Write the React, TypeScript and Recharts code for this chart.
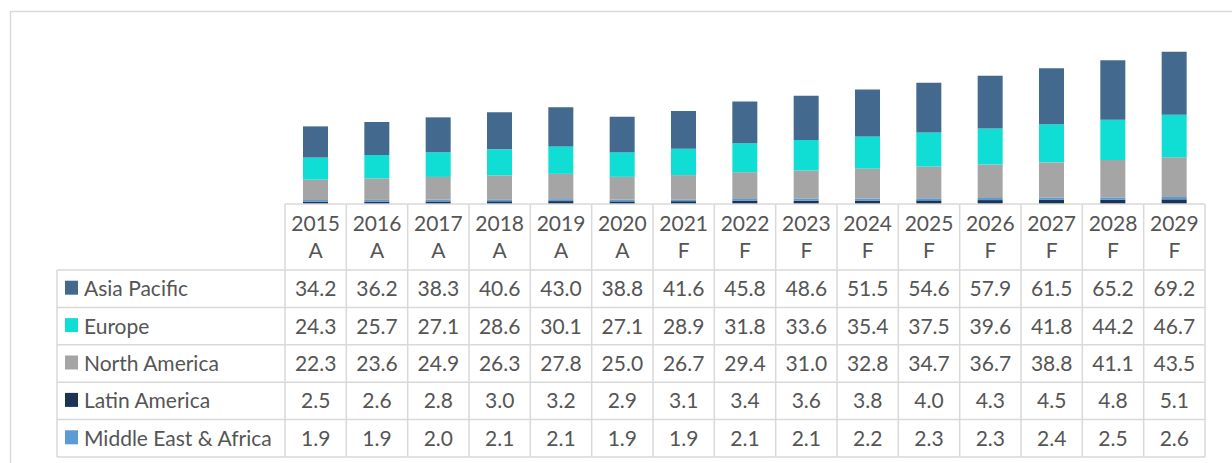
import * as React from "react";
import { Bar, BarChart, XAxis, YAxis } from "recharts";

const years = ["2015", "2016", "2017", "2018", "2019", "2020", "2021", "2022", "2023", "2024", "2025", "2026", "2027", "2028", "2029"];
const phase = ["A", "A", "A", "A", "A", "A", "F", "F", "F", "F", "F", "F", "F", "F", "F"];

const asiaPacific = [34.2, 36.2, 38.3, 40.6, 43.0, 38.8, 41.6, 45.8, 48.6, 51.5, 54.6, 57.9, 61.5, 65.2, 69.2];
const europe = [24.3, 25.7, 27.1, 28.6, 30.1, 27.1, 28.9, 31.8, 33.6, 35.4, 37.5, 39.6, 41.8, 44.2, 46.7];
const northAmerica = [22.3, 23.6, 24.9, 26.3, 27.8, 25.0, 26.7, 29.4, 31.0, 32.8, 34.7, 36.7, 38.8, 41.1, 43.5];
const latinAmerica = [2.5, 2.6, 2.8, 3.0, 3.2, 2.9, 3.1, 3.4, 3.6, 3.8, 4.0, 4.3, 4.5, 4.8, 5.1];
const middleEastAfrica = [1.9, 1.9, 2.0, 2.1, 2.1, 1.9, 1.9, 2.1, 2.1, 2.2, 2.3, 2.3, 2.4, 2.5, 2.6];

// table row order (top to bottom), as shown in the data table
const seriesRows = [
  { key: "asiaPacific", name: "Asia Pacific", color: "#436a8e", values: asiaPacific },
  { key: "europe", name: "Europe", color: "#10ddd3", values: europe },
  { key: "northAmerica", name: "North America", color: "#a5a5a5", values: northAmerica },
  { key: "latinAmerica", name: "Latin America", color: "#1b3453", values: latinAmerica },
  { key: "middleEastAfrica", name: "Middle East & Africa", color: "#5b9bd5", values: middleEastAfrica },
];

// stack order, bottom to top
const stackOrder = ["latinAmerica", "middleEastAfrica", "northAmerica", "europe", "asiaPacific"];

const data = years.map((year, i) => {
  const row: Record<string, string | number> = { year, phase: phase[i] };
  seriesRows.forEach((s) => {
    row[s.key] = s.values[i];
  });
  return row;
});

const W = 1232;
const H = 463;
const PLOT_LEFT = 285;
const PLOT_RIGHT = 1205;
const TABLE_TOP = 204;
const HEADER_H = 66;
const ROW_H = 37.4;
const TABLE_BOTTOM = TABLE_TOP + HEADER_H + ROW_H * seriesRows.length;
const LEGEND_LEFT = 57;
const GRID = "#d9d9d9";
const TEXT = "#555555";
const FONT = "Lato, 'Open Sans', sans-serif";
const FONT_SIZE = 21;

const colW = (PLOT_RIGHT - PLOT_LEFT) / years.length;

// each x-axis tick draws one column of the data table
const TableColumn = (props: any) => {
  const { x, index } = props;
  const left = x - colW / 2;
  const right = x + colW / 2;
  return (
    <g>
      <line x1={left} x2={right} y1={TABLE_TOP} y2={TABLE_TOP} stroke={GRID} strokeWidth={1.5} />
      <line x1={left} x2={left} y1={TABLE_TOP} y2={TABLE_BOTTOM} stroke={GRID} strokeWidth={1.5} />
      {index === years.length - 1 && (
        <line x1={right} x2={right} y1={TABLE_TOP} y2={TABLE_BOTTOM} stroke={GRID} strokeWidth={1.5} />
      )}
      <text x={x} y={TABLE_TOP + 18} textAnchor="middle" dominantBaseline="central" fill={TEXT} fontSize={FONT_SIZE} fontFamily={FONT}>
        {years[index]}
      </text>
      <text x={x} y={TABLE_TOP + 45} textAnchor="middle" dominantBaseline="central" fill={TEXT} fontSize={FONT_SIZE} fontFamily={FONT}>
        {phase[index]}
      </text>
      {seriesRows.map((s, r) => {
        const top = TABLE_TOP + HEADER_H + r * ROW_H;
        return (
          <g key={s.key}>
            <line x1={left} x2={right} y1={top} y2={top} stroke={GRID} strokeWidth={1.5} />
            <text x={x} y={top + ROW_H / 2 - 1} textAnchor="middle" dominantBaseline="central" fill={TEXT} fontSize={FONT_SIZE} fontFamily={FONT}>
              {s.values[index].toFixed(1)}
            </text>
          </g>
        );
      })}
      <line x1={left} x2={right} y1={TABLE_BOTTOM} y2={TABLE_BOTTOM} stroke={GRID} strokeWidth={1.5} />
    </g>
  );
};

const LegendColumn = () => (
  <svg width={W} height={H} style={{ position: "absolute", left: 0, top: 0 }}>
    <rect x={10.5} y={11.5} width={W} height={H} fill="none" stroke={GRID} strokeWidth={1.5} />
    <line x1={LEGEND_LEFT} x2={LEGEND_LEFT} y1={TABLE_TOP + HEADER_H} y2={TABLE_BOTTOM} stroke={GRID} strokeWidth={1.5} />
    {seriesRows.map((s, r) => {
      const top = TABLE_TOP + HEADER_H + r * ROW_H;
      return (
        <g key={s.key}>
          <line x1={LEGEND_LEFT} x2={PLOT_LEFT} y1={top} y2={top} stroke={GRID} strokeWidth={1.5} />
          <rect x={65} y={top + ROW_H / 2 - 8} width={13} height={14} fill={s.color} />
          <text x={84} y={top + ROW_H / 2 - 1} dominantBaseline="central" fill={TEXT} fontSize={FONT_SIZE} fontFamily={FONT}>
            {s.name}
          </text>
        </g>
      );
    })}
    <line x1={LEGEND_LEFT} x2={PLOT_LEFT} y1={TABLE_BOTTOM} y2={TABLE_BOTTOM} stroke={GRID} strokeWidth={1.5} />
  </svg>
);

export default function App() {
  const axisHeight = TABLE_BOTTOM - TABLE_TOP + 2;
  return (
    <div style={{ position: "absolute", left: 0, top: 0, width: W, height: H, background: "#fff", overflow: "hidden" }}>
      <LegendColumn />
      <div style={{ position: "absolute", left: 0, top: 0 }}>
        <BarChart
          width={W}
          height={H}
          data={data}
          margin={{ top: 40, right: W - PLOT_RIGHT, left: PLOT_LEFT, bottom: H - TABLE_TOP - axisHeight }}
        >
          <XAxis
            dataKey="year"
            height={axisHeight}
            axisLine={false}
            tickLine={false}
            interval={0}
            tick={<TableColumn />}
          />
          <YAxis hide domain={[0, 180]} />
          {stackOrder.map((key) => {
            const s = seriesRows.find((r) => r.key === key)!;
            return (
              <Bar key={key} dataKey={key} name={s.name} stackId="total" fill={s.color} barSize={25} isAnimationActive={false} />
            );
          })}
        </BarChart>
      </div>
    </div>
  );
}
